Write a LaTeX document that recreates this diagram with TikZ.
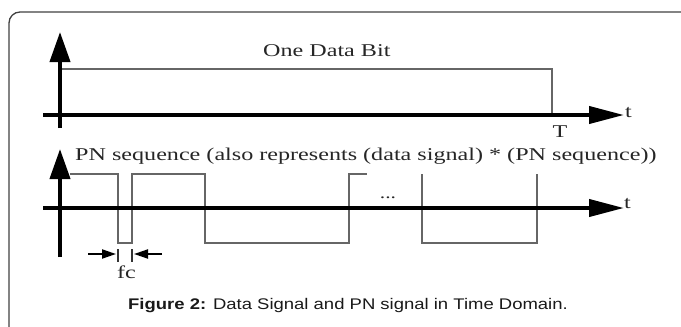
\documentclass[tikz,border=0pt]{standalone}
\usepackage{fontspec}
\setmainfont{Liberation Serif}
\newfontfamily\capfont{Liberation Sans}
\usetikzlibrary{arrows.meta}
\begin{document}
\begin{tikzpicture}[x=1pt,y=-1pt,
  frame/.style={draw=black!75,line width=1.3pt,rounded corners=11pt},
  axis/.style={line width=4pt,-{Triangle[length=30pt,width=20pt]}},
  haxis/.style={line width=4pt,-{Triangle[length=35pt,width=17pt]}},
  wave/.style={draw=black!60,line width=1.2pt},
  dim/.style={line width=2pt,-{Triangle[length=14pt,width=9pt]}},
  tick/.style={line width=1.3pt,draw=black!80},
  lab/.style={inner sep=0pt,text=black!85,font=\fontsize{18}{20}\selectfont}]
  \useasboundingbox (0,0) rectangle (681,327);
  % outer frame (open to the right and bottom)
  \draw[frame] (9,340) -- (9,12) -- (700,12);

  % ---- data bit ----
  \coordinate (a1b) at (60,128);
  \coordinate (a1t) at (60,32);
  \coordinate (h1l) at (43,115);
  \coordinate (h1r) at (624,115);
  \draw[wave] (62,69) -- (552,69) -- (552,115);
  \draw[axis] (a1b) -- (a1t);
  \draw[haxis] (h1l) -- (h1r);
  \node[lab,anchor=base west] (bit) at (263,56) {\scalebox{1.34}[1]{One Data Bit}};
  \node[lab,anchor=base] (T) at (560,137) {\scalebox{1.34}[1]{T}};
  \node[lab,anchor=base west] (t1) at (625,117) {\scalebox{1.34}[1]{t}};

  % ---- PN sequence ----
  \node[lab,anchor=base west] (pn) at (75,160)
    {\scalebox{1.34}[1]{PN sequence (also represents (data signal) * (PN sequence))}};
  \draw[wave] (70,174) -- (118,174) -- (118,243) -- (132,243) -- (132,174)
    -- (205,174) -- (205,243) -- (349,243) -- (349,174) -- (367,174);
  \draw[wave] (422,174) -- (422,243) -- (537,243) -- (537,174);
  \node[lab,anchor=base,font=\fontsize{16}{18}\selectfont] (dots) at (388,198) {\scalebox{1.34}[1]{...}};
  \coordinate (a2b) at (60,257);
  \coordinate (a2t) at (60,149);
  \coordinate (h2l) at (43,208);
  \coordinate (h2r) at (624,208);
  \draw[axis] (a2b) -- (a2t);
  \draw[haxis] (h2l) -- (h2r);
  \node[lab,anchor=base west] (t2) at (624,208) {\scalebox{1.34}[1]{t}};

  % chip width marker
  \coordinate (k1t) at (118,249);
  \coordinate (k1b) at (118,262);
  \coordinate (k2t) at (132,249);
  \coordinate (k2b) at (132,262);
  \draw[tick] (k1t) -- (k1b);
  \draw[tick] (k2t) -- (k2b);
  \coordinate (d1s) at (88,254);
  \coordinate (d1e) at (116,254);
  \coordinate (d2s) at (162,254);
  \coordinate (d2e) at (134,254);
  \draw[dim] (d1s) -- (d1e);
  \draw[dim] (d2s) -- (d2e);
  \node[lab,anchor=base west] (fc) at (117,278) {\scalebox{1.34}[1]{fc}};

  % caption
  \node[inner sep=0pt,anchor=base west,text=black!90,font=\capfont\fontsize{15.4}{17}\selectfont] (cap) at (128,309)
    {\scalebox{1.2}[1]{\textbf{Figure 2:} Data Signal and PN signal in Time Domain.}};
\end{tikzpicture}
\end{document}
